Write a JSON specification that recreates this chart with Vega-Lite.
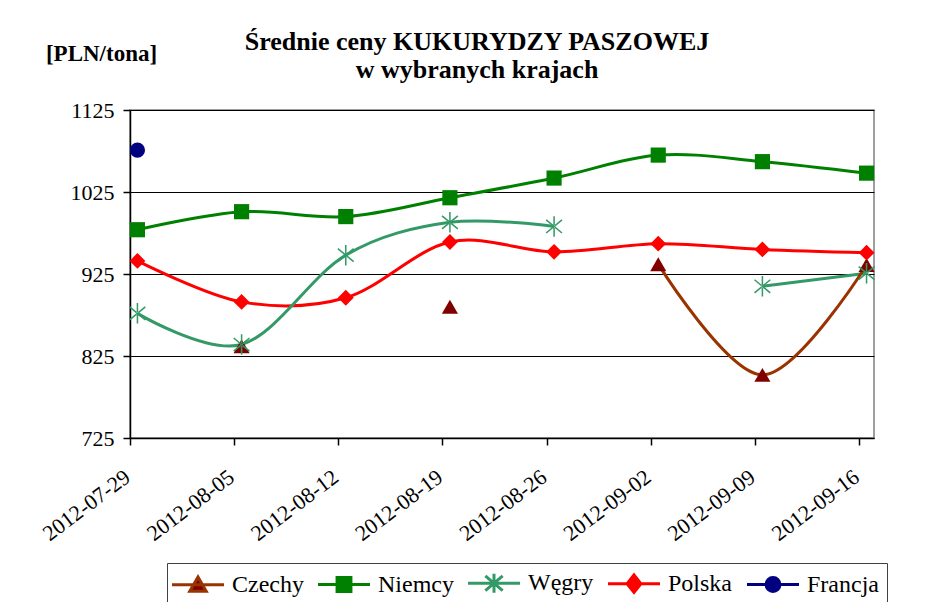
{
  "$schema": "https://vega.github.io/schema/vega-lite/v6.json",
  "width": 744,
  "height": 328,
  "autosize": {"type": "none"},
  "padding": {"left": 130, "top": 110, "right": 59, "bottom": 164},
  "background": "white",
  "config": {
    "font": "Times New Roman, Liberation Serif, DejaVu Serif, serif",
    "view": {"stroke": "#808080", "strokeWidth": 1.5},
    "legend": {
      "orient": "none",
      "legendX": 37,
      "legendY": 453,
      "direction": "horizontal",
      "strokeColor": "#404040",
      "padding": 8,
      "labelFontSize": 24,
      "labelFont": "Times New Roman, Liberation Serif, DejaVu Serif, serif",
      "labelColor": "black",
      "symbolSize": 300,
      "symbolStrokeWidth": 3,
      "symbolOpacity": 1,
      "symbolOffset": 11,
      "labelOffset": 22,
      "columnPadding": 8
    }
  },
  "title": {
    "text": ["Średnie ceny KUKURYDZY PASZOWEJ", "w wybranych krajach"],
    "font": "Times New Roman, Liberation Serif, DejaVu Serif, serif",
    "fontSize": 26,
    "fontWeight": "bold",
    "lineHeight": 28,
    "anchor": "middle",
    "frame": "group",
    "dx": -25,
    "offset": -41,
    "color": "black"
  },
  "data": {
    "values": [
      {"date": "2012-07-29T12:00:00", "kraj": "Niemcy", "cena": 979},
      {"date": "2012-08-05T12:00:00", "kraj": "Niemcy", "cena": 1001},
      {"date": "2012-08-12T12:00:00", "kraj": "Niemcy", "cena": 995},
      {"date": "2012-08-19T12:00:00", "kraj": "Niemcy", "cena": 1018},
      {"date": "2012-08-26T12:00:00", "kraj": "Niemcy", "cena": 1042},
      {"date": "2012-09-02T12:00:00", "kraj": "Niemcy", "cena": 1070},
      {"date": "2012-09-09T12:00:00", "kraj": "Niemcy", "cena": 1062},
      {"date": "2012-09-16T12:00:00", "kraj": "Niemcy", "cena": 1048},
      {"date": "2012-07-29T12:00:00", "kraj": "Polska", "cena": 941},
      {"date": "2012-08-05T12:00:00", "kraj": "Polska", "cena": 891},
      {"date": "2012-08-12T12:00:00", "kraj": "Polska", "cena": 896},
      {"date": "2012-08-19T12:00:00", "kraj": "Polska", "cena": 964},
      {"date": "2012-08-26T12:00:00", "kraj": "Polska", "cena": 952},
      {"date": "2012-09-02T12:00:00", "kraj": "Polska", "cena": 962},
      {"date": "2012-09-09T12:00:00", "kraj": "Polska", "cena": 955},
      {"date": "2012-09-16T12:00:00", "kraj": "Polska", "cena": 951},
      {"date": "2012-07-29T12:00:00", "kraj": "Węgry", "cena": 877},
      {"date": "2012-08-05T12:00:00", "kraj": "Węgry", "cena": 839},
      {"date": "2012-08-12T12:00:00", "kraj": "Węgry", "cena": 948},
      {"date": "2012-08-19T12:00:00", "kraj": "Węgry", "cena": 988},
      {"date": "2012-08-26T12:00:00", "kraj": "Węgry", "cena": 983},
      {"date": "2012-09-02T12:00:00", "kraj": "Węgry", "cena": null},
      {"date": "2012-09-09T12:00:00", "kraj": "Węgry", "cena": 910},
      {"date": "2012-09-16T12:00:00", "kraj": "Węgry", "cena": 926},
      {"date": "2012-08-05T12:00:00", "kraj": "Czechy", "cena": 837},
      {"date": "2012-08-12T12:00:00", "kraj": "Czechy", "cena": null},
      {"date": "2012-08-19T12:00:00", "kraj": "Czechy", "cena": 885},
      {"date": "2012-08-26T12:00:00", "kraj": "Czechy", "cena": null},
      {"date": "2012-09-02T12:00:00", "kraj": "Czechy", "cena": 937},
      {"date": "2012-09-09T12:00:00", "kraj": "Czechy", "cena": 802},
      {"date": "2012-09-16T12:00:00", "kraj": "Czechy", "cena": 936},
      {"date": "2012-07-29T12:00:00", "kraj": "Francja", "cena": 1076}
    ]
  },
  "encoding": {
    "x": {
      "field": "date",
      "type": "temporal",
      "scale": {
        "domain": [{"year": 2012, "month": 7, "date": 29}, {"year": 2012, "month": 9, "date": 17}],
        "nice": false
      },
      "axis": {
        "title": null,
        "format": "%Y-%m-%d",
        "tickCount": {"interval": "week", "step": 1},
        "labelAngle": -37,
        "labelAlign": "right",
        "labelBaseline": "top",
        "labelFontSize": 22,
        "labelColor": "black",
        "labelOverlap": false,
        "labelBound": false,
        "labelOffset": -9,
        "grid": false,
        "domainColor": "black",
        "domainWidth": 1.5,
        "tickColor": "black",
        "tickWidth": 1.5,
        "tickSize": 7,
        "labelPadding": 21
      }
    },
    "y": {
      "field": "cena",
      "type": "quantitative",
      "scale": {"domain": [725, 1125], "nice": false, "zero": false},
      "axis": {
        "values": [725, 825, 925, 1025, 1125],
        "format": "d",
        "grid": true,
        "gridColor": "black",
        "gridWidth": 1,
        "domainColor": "black",
        "domainWidth": 1.5,
        "tickColor": "black",
        "tickWidth": 1.5,
        "tickSize": 7,
        "labelFontSize": 22,
        "labelColor": "black",
        "labelPadding": 9,
        "title": "[PLN/tona]",
        "titleAngle": 0,
        "titleX": -29,
        "titleY": -50,
        "titleFontSize": 23,
        "titleFontWeight": "bold",
        "titleAlign": "center",
        "titleBaseline": "alphabetic",
        "titleColor": "black"
      }
    }
  },
  "layer": [
    {
      "transform": [{"filter": "false"}],
      "mark": {"type": "point", "filled": true, "opacity": 1, "strokeWidth": 3},
      "encoding": {
        "fill": {
          "field": "kraj", "type": "nominal", "title": null,
          "scale": {"domain": ["Czechy", "Niemcy", "Węgry", "Polska", "Francja"], "range": ["#800000", "#008000", "#339966", "#FF0000", "#000080"]}
        },
        "stroke": {
          "field": "kraj", "type": "nominal", "title": null,
          "scale": {"domain": ["Czechy", "Niemcy", "Węgry", "Polska", "Francja"], "range": ["#993300", "#008000", "#339966", "#FF0000", "#000080"]}
        },
        "shape": {
          "field": "kraj", "type": "nominal", "title": null,
          "scale": {
            "domain": ["Czechy", "Niemcy", "Węgry", "Polska", "Francja"],
            "range": [
              "M-3,0L3,0M0,-0.9L0.95,0.75L-0.95,0.75Z",
              "M-3,0L3,0M-0.8,-0.8L0.8,-0.8L0.8,0.8L-0.8,0.8Z",
              "M-3,0L3,0M0,-1.1L0,1.1M-1,-0.85L1,0.85M-1,0.85L1,-0.85",
              "M-3,0L3,0M0,-1L0.8,0L0,1L-0.8,0Z",
              "M-3,0L3,0M-0.8,0A0.8,0.8 0 1,0 0.8,0A0.8,0.8 0 1,0 -0.8,0Z"
            ]
          }
        }
      }
    },
    {
      "mark": {"type": "line", "strokeWidth": 3, "interpolate": "cardinal", "invalid": "break-paths-show-domains"},
      "encoding": {
        "stroke": {
          "field": "kraj", "type": "nominal", "title": null,
          "scale": {"domain": ["Czechy", "Niemcy", "Węgry", "Polska", "Francja"], "range": ["#993300", "#008000", "#339966", "#FF0000", "#000080"]}
        }
      }
    },
    {
      "transform": [{"filter": "datum.kraj === 'Czechy'"}],
      "mark": {"type": "point", "shape": "triangle-up", "filled": true, "size": 260, "opacity": 1},
      "encoding": {
        "fill": {"field": "kraj", "type": "nominal", "title": null}
      }
    },
    {
      "transform": [{"filter": "datum.kraj === 'Niemcy'"}],
      "mark": {"type": "point", "shape": "square", "filled": true, "size": 230, "opacity": 1},
      "encoding": {
        "fill": {"field": "kraj", "type": "nominal", "title": null}
      }
    },
    {
      "transform": [{"filter": "datum.kraj === 'Węgry'"}],
      "mark": {"type": "point", "shape": "M-0.1,-1.35L0.1,-1.35L0.1,1.35L-0.1,1.35ZM0.976,0.937L1.104,0.783L-0.976,-0.937L-1.104,-0.783ZM1.104,-0.783L0.976,-0.937L-1.104,0.783L-0.976,0.937Z", "filled": true, "size": 230, "opacity": 1},
      "encoding": {
        "fill": {"field": "kraj", "type": "nominal", "title": null}
      }
    },
    {
      "transform": [{"filter": "datum.kraj === 'Polska'"}],
      "mark": {"type": "point", "shape": "diamond", "filled": true, "size": 250, "opacity": 1},
      "encoding": {
        "fill": {"field": "kraj", "type": "nominal", "title": null}
      }
    },
    {
      "transform": [{"filter": "datum.kraj === 'Francja'"}],
      "mark": {"type": "point", "shape": "circle", "filled": true, "size": 230, "opacity": 1},
      "encoding": {
        "fill": {"field": "kraj", "type": "nominal", "title": null}
      }
    }
  ]
}
